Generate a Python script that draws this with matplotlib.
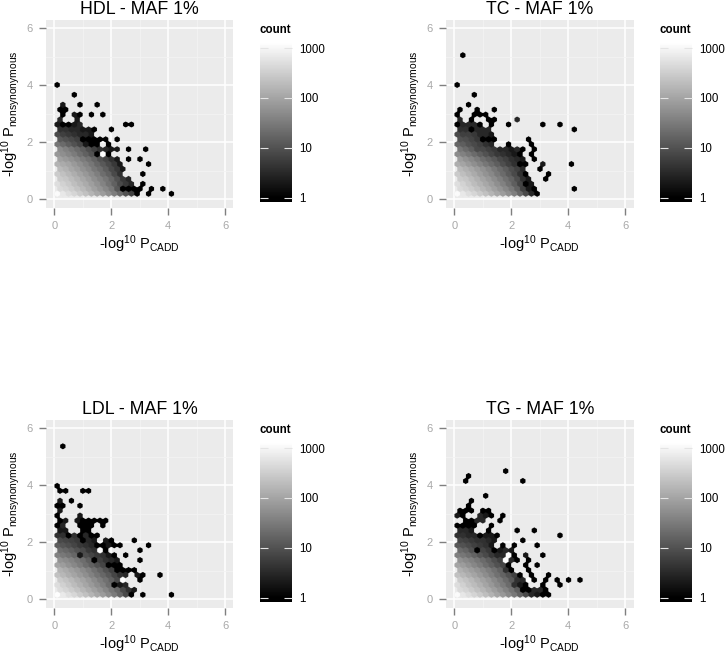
import numpy as np
import matplotlib as mpl
mpl.use("Agg")
import matplotlib.pyplot as plt
from matplotlib.colors import LogNorm

mpl.rcParams['font.family'] = ['Liberation Sans', 'DejaVu Sans']
mpl.rcParams['mathtext.fontset'] = 'custom'
mpl.rcParams['mathtext.rm'] = 'Liberation Sans'
mpl.rcParams['mathtext.default'] = 'regular'

W, H = 726, 654

titles = ["HDL - MAF 1%", "TC - MAF 1%", "LDL - MAF 1%", "TG - MAF 1%"]
ticks = [0, 2, 4, 6]
legend_ticks = [1, 10, 100, 1000]

# hex counts: row number (y = row * 0.1732) -> counts along the row, 0 = empty
# odd rows start at x = 0.1, even rows at x = 0.2, step 0.2
hdl = {
    1: [1100,650,500,400,300,220,160,110,80,55,35,20,10,6,1,0,1,0,0,0,1],
    2: [450,400,320,240,180,130,90,65,45,30,12,1,1,1,1,0,1,0,1],
    3: [500,350,280,210,160,120,85,60,40,25,15,8,5,3,0,1],
    4: [300,260,200,150,110,80,55,40,28,18,10,5,3],
    5: [300,220,170,130,95,70,50,35,22,15,8,4,0,0,0,1],
    6: [180,150,110,85,60,45,30,22,14,8,5,2],
    7: [150,120,100,75,55,40,28,18,12,8,5,2,0,0,0,0,1],
    8: [90,75,60,45,32,24,16,10,7,4,2,0,1,0,1],
    9: [70,55,42,32,22,15,10,1,1200,1],
    10: [50,38,28,20,14,9,6,4,3,2,2,0,1,0,0,1],
    11: [28,20,14,10,7,2,1,1,0,1],
    12: [12,10,8,6,1,1,1,1,1,0,1],
    13: [8,6,5,4,3,3,2],
    14: [4,4,3,3,2,2,1,0,0,1],
    15: [2,1,1,2,3,0,0,0,0,0,0,0,1,1],
    16: [3,0,0,2],
    17: [0,1,0,2,1,0,1,0,1],
    18: [1,1],
    19: [0,2,0,0,1,0,0,1],
    21: [0,0,0,1],
    23: [1],
}
tc = {
    1: [1100,650,500,400,300,220,160,110,80,55,35,18,8,3,1],
    2: [450,380,310,230,170,125,90,65,45,30,16,6,2,1,0,0,0,0,0,0,1],
    3: [500,360,270,200,150,110,80,55,38,24,14,7,1,2],
    4: [300,260,190,140,100,75,52,36,24,16,9,4,2,0,0,1],
    5: [280,210,160,120,85,62,45,30,20,13,8,4,1,0,0,0,1],
    6: [180,140,110,80,60,42,30,20,14,9,6,3,0,0,1],
    7: [130,100,75,55,40,28,20,14,9,6,4,1,1,0,0,2,0,0,0,0,1],
    8: [80,60,45,32,22,16,12,8,6,4,3,2,0,1],
    9: [50,38,28,20,14,10,7,5,4,3,2,1,0,1],
    10: [28,20,14,8,8,6,5,3,3,2,3,1,0,1],
    11: [18,14,10,8,6,4,3,0,0,1,0,0,0,1],
    12: [10,9,7,5,1,1,1,0,0,0,0,0,1],
    13: [8,6,6,5,3,3,2],
    14: [4,4,1,3,3,3,0,0,0,0,0,0,0,0,0,0,0,0,0,0,1],
    15: [1,3,3,3,1,0,1,0,0,1,0,0,0,0,0,1,0,0,1],
    16: [3,0,1,0,0,1,1,0,0,0,3],
    17: [1,0,0,1,1,1],
    18: [1,0,0,1,0,0,1],
    19: [0,0,1],
    21: [0,0,0,1],
    23: [1],
    29: [0,1],
}
ldl = {
    1: [1200,700,520,410,300,220,160,110,78,52,32,18,8,1,0,1,0,0,0,0,1],
    2: [480,400,310,230,170,125,90,65,44,28,18,8,4,2],
    3: [480,340,260,190,140,105,75,52,36,22,1,2,3],
    4: [300,240,180,135,100,72,50,34,24,15,8,1200,0,0,1],
    5: [220,170,130,100,75,55,38,26,18,12,7,4,3,0,2,1,0,0,1],
    6: [150,120,90,70,50,36,24,16,10,6,1,1,1,1],
    7: [100,80,60,45,32,22,15,10,7,1,1,1],
    8: [60,50,40,30,22,14,1,6,4,3,2,0,0,0,1],
    9: [38,30,24,18,2,9,7,5,4,2,1,0,1],
    10: [22,18,14,10,8,5,4,1200,1,0,0,0,0,0,1],
    11: [14,11,9,7,5,4,3,1,1,2,1,1,0,0,0,0,1],
    12: [8,7,6,5,1,3,2,0,2,1,0,0,0,1],
    13: [4,4,1,4,1,3,1,1],
    14: [2,2,0,0,1,1],
    15: [1,3,0,0,1,1,1,0,1],
    16: [1,2,0,2,1,1,1,1,1],
    17: [1,0,0,0,2],
    18: [2],
    19: [1,1,0,0,1],
    20: [2,0,1],
    22: [1,1,0,0,1,1],
    23: [1],
    31: [0,1],
}
tg = {
    1: [1100,640,490,390,290,210,150,100,72,48,30,16,8,3,2,1,1],
    2: [450,380,300,220,165,120,85,60,40,26,14,1,1,3,3,1],
    3: [480,340,250,190,140,100,70,48,32,20,4,2,1,0,0,1,0,0,1],
    4: [300,240,180,130,95,70,48,32,20,12,4,3,1200,1,0,1,0,1,0,1,0,1],
    5: [220,170,130,100,72,52,36,24,16,10,6,1,0,1,0,0,1],
    6: [140,110,85,65,48,34,24,16,4,1,0,0,1],
    7: [100,80,60,44,32,22,15,10,7,1,0,0,1,0,1],
    8: [60,48,38,28,20,14,9,6,1200,3,1,0,1],
    9: [36,28,22,16,11,8,5,3,3,1200,1,0,2,0,0,1],
    10: [20,16,10,1,7,5,1,2,3,2],
    11: [12,10,8,6,5,4,2,0,1,0,1,0,0,0,1],
    12: [7,6,5,4,4,3,2,0,0,0,0,1],
    13: [4,4,3,3,1,2,2,1,0,0,0,0,0,0,0,0,0,0,1],
    14: [3,3,2,0,0,1,0,0,0,0,1,0,0,1],
    15: [1,1,1,1,0,0,1],
    16: [0,1,1,3,3,0,0,1],
    17: [2,1,0,0,3,2,1,0,1],
    18: [1,1,1,0,1,1],
    19: [0,0,1],
    20: [0,0,1],
    21: [0,0,0,0,0,1],
    24: [0,1,0,0,0,0,0,0,0,0,0,1],
    25: [0,0,1],
    26: [0,0,0,0,0,0,0,0,1],
}
panels = [hdl, tc, ldl, tg]

norm = LogNorm(vmin=1, vmax=1260, clip=True)
hex_cmap = plt.get_cmap('gray').with_extremes(bad=(0.92, 0.92, 0.92, 0))
fig = plt.figure(figsize=(W / 100, H / 100), dpi=100)

LO, HI = -0.29, 6.29
sample = (np.arange(658) + 0.5) * 0.01 + LO


def px_axes(left, top, right, bottom):
    return fig.add_axes([left / W, 1 - bottom / H, (right - left) / W, (bottom - top) / H])


def hex_image(rows):
    # polygons get dark seams at this size, so the cells are painted into a fine grid
    grid = np.full((sample.size, sample.size), np.nan)
    gx, gy = np.meshgrid(sample, sample)
    for row, counts in rows.items():
        start = 0.1 if row % 2 else 0.2
        for j, c in enumerate(counts):
            if c > 0:
                ddx = np.abs(gx - (start + 0.2 * j))
                ddy = np.abs(gy - row * 0.1732)
                grid[(ddx <= 0.1) & (ddy <= 0.1155 - ddx / np.sqrt(3))] = c
    return np.ma.masked_invalid(grid)


def draw_panel(rows, title, dx, dy):
    ax = px_axes(46 + dx, 20 + dy, 233.5 + dx, 207.5 + dy)
    ax.set_facecolor('#EBEBEB')
    ax.imshow(hex_image(rows), origin='lower', extent=(LO, HI, LO, HI), aspect='auto', cmap=hex_cmap,
              norm=norm, interpolation='hanning', interpolation_stage='rgba', zorder=3)
    ax.set_xlim(LO, HI)
    ax.set_ylim(LO, HI)
    ax.set_xticks(ticks)
    ax.set_yticks(ticks)
    ax.set_xticks([1, 3, 5], minor=True)
    ax.set_yticks([1, 3, 5], minor=True)
    ax.grid(True, which='major', color='white', lw=1.1)
    ax.grid(True, which='minor', color='#F3F3F3', lw=0.6)
    ax.set_axisbelow(True)
    ax.tick_params(which='minor', length=0)
    ax.tick_params(which='major', length=5, width=1, color='#7f7f7f',
                   labelcolor='#a8a8a8', labelsize=8, pad=4.5)
    for s in ax.spines.values():
        s.set_visible(False)
    ax.set_title(title, fontsize=12.8, pad=4.5)
    ax.set_xlabel(r'-log$^{10}$ P$_{CADD}$', fontsize=10.5, labelpad=2)
    ax.set_ylabel(r'-log$^{10}$ P$_{nonsynonymous}$', fontsize=10.5, labelpad=3)

    # legend bar
    cax = px_axes(260 + dx, 43 + dy, 292 + dx, 202 + dy)
    levels = np.logspace(np.log10(0.83), np.log10(1260), 200)
    cax.pcolormesh([0, 1], levels, levels[:-1, None], cmap='gray', norm=norm, shading='flat')
    cax.set_yscale('log')
    cax.set_ylim(0.83, 1260)
    cax.set_xlim(0, 1)
    cax.set_xticks([])
    cax.set_yticks(legend_ticks)
    cax.set_yticklabels([str(t) for t in legend_ticks])
    cax.minorticks_off()
    cax.yaxis.tick_right()
    cax.tick_params(axis='y', which='major', direction='in', length=6, width=0.8, color='#e4e4e4',
                    left=True, right=True, labelsize=8.3, pad=5.5)
    for lab in cax.get_yticklabels():
        lab.set_ha('left')
    for s in cax.spines.values():
        s.set_visible(False)
    fig.text((260 + dx) / W, 1 - (30 + dy) / H, 'count', fontsize=8.3, fontweight='bold',
             ha='left', va='center')


offsets = [(0, 0), (400, 0), (0, 400), (400, 400)]
for rows, title, (dx, dy) in zip(panels, titles, offsets):
    draw_panel(rows, title, dx, dy)

fig.savefig('out.png', dpi=100)
